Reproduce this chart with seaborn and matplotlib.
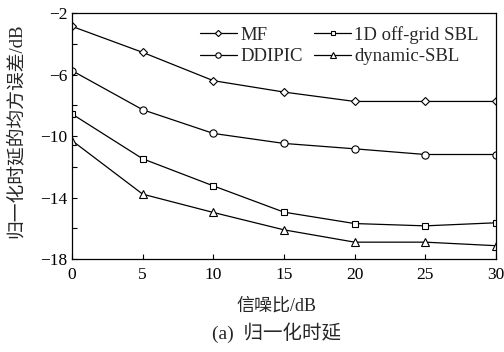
import numpy as np
import pandas as pd
import matplotlib
matplotlib.use("Agg")
import matplotlib.pyplot as plt
import seaborn as sns

# values
snr = [0, 5, 10, 15, 20, 25, 30]
mf = [-2.87, -4.56, -6.40, -7.14, -7.75, -7.75, -7.75]
ddipic = [-5.75, -8.29, -9.83, -10.48, -10.83, -11.2, -11.2]
offgrid = [-8.57, -11.48, -13.24, -14.95, -15.69, -15.84, -15.64]
dynamic = [-10.3, -13.78, -14.97, -16.1, -16.9, -16.9, -17.13]
names = ["MF", "DDIPIC", "1D off-grid SBL", "dynamic-SBL"]
y_ticks = [-2, -6, -10, -14, -18]

df = pd.DataFrame({
    "SNR": snr * 4,
    "MSE": mf + ddipic + offgrid + dynamic,
    "method": [n for n in names for _ in snr],
})

sns.set_style("ticks")
plt.rcParams['font.family'] = ['Liberation Serif', 'Noto Sans CJK SC']
plt.rcParams['axes.unicode_minus'] = True

fig = plt.figure(figsize=(5.04, 3.52), dpi=100)
ax = fig.add_axes([0.143, 0.264, 0.841, 0.699])

markers = {"MF": "D", "DDIPIC": "o", "1D off-grid SBL": "s", "dynamic-SBL": "^"}
sizes = {"MF": 4.2, "DDIPIC": 5.2, "1D off-grid SBL": 4.4, "dynamic-SBL": 5.8}
for n in names:
    sub = df[df["method"] == n]
    sns.lineplot(data=sub, x="SNR", y="MSE", ax=ax, color="black", lw=0.9,
                 marker=markers[n], markersize=sizes[n], markerfacecolor="white",
                 markeredgecolor="black", markeredgewidth=0.8, label=n)

ax.set_xlim(0, 30)
ax.set_ylim(-18, -2)
ax.set_xticks(snr)
ax.set_yticks(y_ticks)
ax.set_yticks([-4, -8, -12, -16], minor=True)
ax.tick_params(which="both", direction="in", length=3.5, width=0.8, labelsize=12.5,
               colors="black")
ax.tick_params(axis="x", pad=6)
for s in ax.spines.values():
    s.set_linewidth(0.9)
    s.set_color("black")

ax.set_xlabel("信噪比/dB", fontsize=13)
ax.xaxis.set_label_coords(0.483, -0.155)
ax.set_ylabel("归一化时延的均方误差/dB", fontsize=13.5)
ax.yaxis.set_label_coords(-0.112, 0.52)

handles, labels = ax.get_legend_handles_labels()
ax.legend(handles, labels, ncol=2, frameon=False, fontsize=13.5,
          loc="upper right", bbox_to_anchor=(0.99, 1.0), markerscale=0.75,
          handlelength=2.0, handletextpad=0.15, columnspacing=0.6,
          labelspacing=0.22, borderaxespad=0.3)

fig.text(0.548, 0.025, "(a)  归一化时延", ha="center", va="bottom", fontsize=14)

fig.savefig("out.png", dpi=100)
